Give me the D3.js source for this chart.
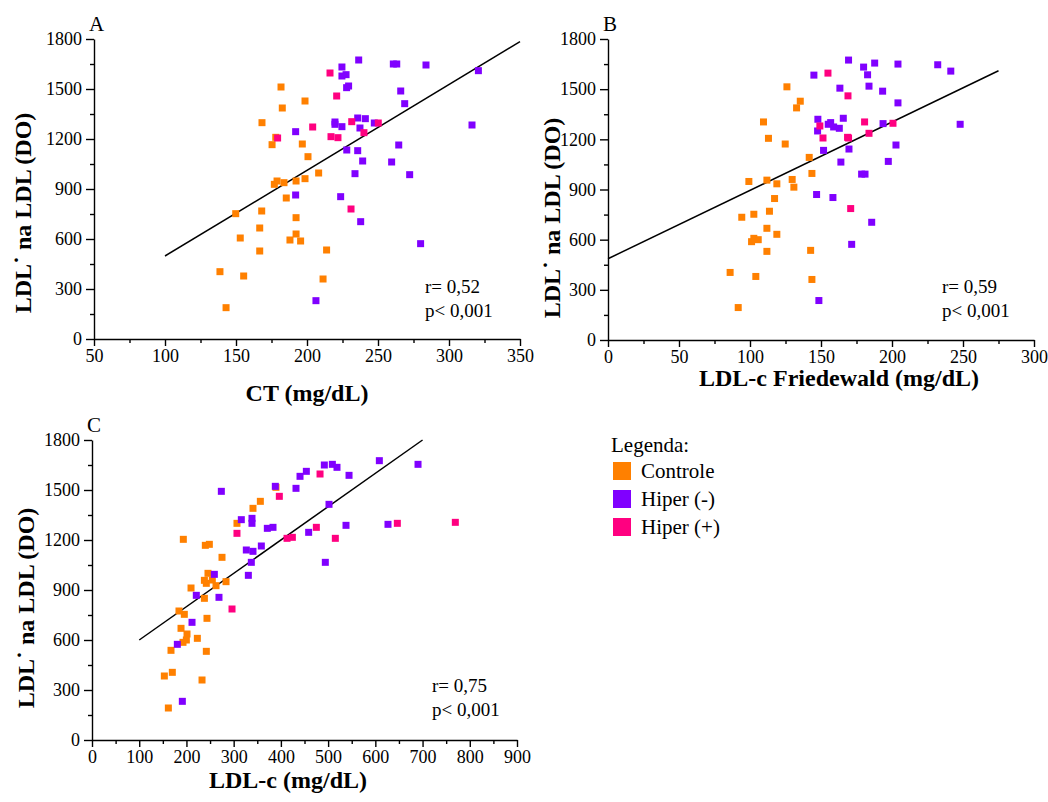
<!DOCTYPE html>
<html>
<head>
<meta charset="utf-8">
<script src="https://cdn.jsdelivr.net/npm/d3@7/dist/d3.min.js"></script>
<style>
  body { margin: 0; background: #fff; }
  svg text { font-family: "Liberation Serif", "Times New Roman", serif; fill: #000; }
  .axis path, .axis line { stroke: #000; stroke-width: 1.4; }
  .axis text { font-size: 18px; }
  .title { font-size: 24px; font-weight: bold; }
</style>
</head>
<body>
<svg id="chart" width="1048" height="802"></svg>
<script>
// group colours
var groups = ['Controle', 'Hiper (-)', 'Hiper (+)'];
var colors = ['#ff8000', '#8000ff', '#ff0080'];

// A: CT vs LDL- na LDL
var aControle = [[181.7,1512],[198.6,1428],[182.6,1386],[168.3,1298],[175.4,1166],[196.7,1170],[200.7,1094],
  [208.2,996],[178.9,948],[177,928],[183.8,938],[192.3,948],[198.6,962],[185.4,846],[149.8,752],[168.1,768],
  [192.3,728],[166.7,666],[192.3,630],[153,606],[188,594],[195.5,588],[166.7,528],[213.8,534],[138.7,404],
  [155.4,378],[211.3,360],[143,188],[178,1210]];
var aHiperNeg = [[236.4,1674],[224.6,1632],[224.6,1578],[227.5,1586],[227.9,1508],[229.3,1518],[260.8,1650],
  [263.2,1650],[283.8,1644],[320.7,1610],[266,1488],[268.8,1412],[316.2,1284],[219.7,1302],[219.7,1288],
  [224.6,1274],[235.7,1326],[237.3,1266],[241.1,1322],[247.4,1296],[192,1244],[264.6,1164],[228,1134],
  [235.7,1130],[239.2,1068],[259.6,1062],[233.8,992],[272.3,986],[192,864],[223.7,854],[237.8,704],
  [280,572],[206.3,230]];
var aHiperPos = [[216.2,1596],[220.9,1458],[231.5,1304],[250.2,1296],[204,1272],[216.9,1214],[221.8,1208],
  [240.1,1238],[179.3,1206],[231,780]];

// B: LDL-c Friedewald vs LDL- na LDL
var bControle = [[126,1514],[135.4,1428],[132.8,1388],[109.5,1304],[113,1206],[124.8,1172],[141.7,1092],
  [143.6,996],[99.2,948],[111.9,956],[118.9,934],[129.7,960],[130.9,914],[117.3,846],[94.2,734],[102.7,752],
  [113.7,770],[111.9,668],[118.9,632],[102.7,608],[105.8,600],[101.1,588],[111.9,530],[142.7,536],[86,404],
  [104.1,380],[143.6,362],[91.7,194]];
var bHiperNeg = [[169.4,1674],[180,1632],[187.8,1656],[204.2,1650],[232.2,1646],[241.4,1608],[145,1584],
  [182.8,1586],[183.8,1518],[163.3,1506],[193.4,1488],[204.2,1418],[147.8,1320],[147.6,1250],[155.1,1290],
  [156.8,1300],[158.9,1274],[162.9,1266],[165.7,1326],[193.7,1294],[248,1290],[151.8,1134],[169.7,1142],
  [202.8,1166],[164,1064],[197.4,1068],[178.6,992],[181,992],[146.9,870],[158.4,852],[185.7,704],
  [171.6,572],[148.5,236]];
var bHiperPos = [[154.9,1596],[169,1460],[180.7,1304],[200.7,1296],[149.2,1280],[151.4,1208],[168.7,1212],
  [169.4,1208],[183.8,1236],[170.9,786]];

// C: LDL-c vs LDL- na LDL
var cControle = [[389.6,1516],[356.5,1432],[340.9,1390],[307,1300],[193.4,1204],[240,1168],[248.5,1174],
  [275.3,1096],[245.6,1000],[238,958],[242.1,940],[254.8,960],[262.6,926],[283.8,950],[209.7,912],[238,850],
  [184.2,774],[195.5,754],[243.5,730],[188.5,670],[201.2,636],[199.8,600],[192.7,586],[223.1,610],
  [167.3,538],[242.1,532],[153.2,384],[170.1,406],[233,360],[161.7,192]];
var cHiperNeg = [[608.5,1676],[690.4,1654],[492,1650],[509,1654],[518.8,1636],[453.9,1612],[440.5,1582],
  [544.3,1588],[388.2,1522],[432,1510],[273.9,1492],[501.9,1414],[316.2,1322],[338.8,1330],[338.8,1300],
  [371.3,1270],[383.3,1276],[537.9,1288],[626.8,1294],[458.8,1246],[358.6,1164],[326.8,1140],[340.9,1132],
  [337.4,1066],[494.1,1066],[259.1,994],[331.1,988],[220.9,868],[268.9,856],[211.8,706],[180.7,574],
  [191.3,232]];
var cHiperPos = [[482.9,1596],[396.7,1462],[307,1240],[475.1,1276],[646.6,1300],[769.4,1306],[413,1210],
  [424.3,1216],[515.3,1210],[296.5,786]];

// regression line end points
var aFit = [[100,498],[350,1784]];
var bFit = [[0,486],[275,1610]];
var cFit = [[100,600],[700,1800]];

var yTicks = [0,300,600,900,1200,1500,1800];
var yTitle = 'LDL\u02D9 na LDL (DO)';

var svg = d3.select('#chart');

function panel(cfg) {
    var x = d3.scaleLinear().domain(cfg.xDomain).range([cfg.left, cfg.right]);
    var y = d3.scaleLinear().domain([0, 1800]).range([cfg.bottom, cfg.top]);
    var g = svg.append('g');

    //minor ticks
    g.append('g').attr('class', 'axis')
        .attr('transform', 'translate(0,' + cfg.bottom + ')')
        .call(d3.axisBottom(x).tickValues(cfg.xMinor).tickSize(4).tickFormat(''))
        .select('.domain').remove();
    g.append('g').attr('class', 'axis')
        .attr('transform', 'translate(' + cfg.left + ',0)')
        .call(d3.axisLeft(y).tickValues(d3.range(150, 1800, 300)).tickSize(4).tickFormat(''))
        .select('.domain').remove();

    //major axes
    g.append('g').attr('class', 'axis')
        .attr('transform', 'translate(0,' + cfg.bottom + ')')
        .call(d3.axisBottom(x).tickValues(cfg.xTicks).tickSize(7).tickSizeOuter(0).tickPadding(3).tickFormat(d3.format('d')));
    g.append('g').attr('class', 'axis')
        .attr('transform', 'translate(' + cfg.left + ',0)')
        .call(d3.axisLeft(y).tickValues(yTicks).tickSize(8).tickSizeOuter(0).tickPadding(4).tickFormat(d3.format('d')));

    //regression line
    g.append('path')
        .attr('d', d3.line().x(d => x(d[0])).y(d => y(d[1]))(cfg.fit))
        .attr('fill', 'none')
        .attr('stroke', '#000')
        .attr('stroke-width', 1.5);

    //points
    cfg.series.forEach(function(s, i) {
        g.append('g').selectAll('rect').data(s)
            .enter().append('rect')
            .attr('x', d => x(d[0]) - 3.5)
            .attr('y', d => y(d[1]) - 3.5)
            .attr('width', 7)
            .attr('height', 7)
            .attr('fill', colors[i]);
    });

    //titles
    g.append('text').attr('class', 'title')
        .attr('x', cfg.xTitleX).attr('y', cfg.xTitleY)
        .attr('text-anchor', 'middle')
        .text(cfg.xTitle);
    g.append('text').attr('class', 'title')
        .attr('transform', 'translate(' + cfg.yTitleX + ',' + cfg.yTitleY + ') rotate(-90)')
        .attr('text-anchor', 'middle')
        .text(yTitle);
    g.append('text')
        .attr('x', cfg.left - 5).attr('y', cfg.top - 8)
        .style('font-size', '21px')
        .text(cfg.letter);

    //stats
    g.append('text').attr('x', cfg.statX).attr('y', cfg.statY)
        .style('font-size', '19px').text(cfg.r);
    g.append('text').attr('x', cfg.statX).attr('y', cfg.statY + 24)
        .style('font-size', '19px').text('p< 0,001');
}

panel({
    letter: 'A', xDomain: [50, 350], left: 94, right: 520, top: 39, bottom: 339,
    xTicks: d3.range(50, 351, 50), xMinor: d3.range(75, 350, 50),
    fit: aFit, series: [aControle, aHiperNeg, aHiperPos],
    xTitle: 'CT (mg/dL)', xTitleX: 307, xTitleY: 401,
    yTitleX: 31, yTitleY: 213,
    statX: 425, statY: 293, r: 'r= 0,52'
});

panel({
    letter: 'B', xDomain: [0, 300], left: 608, right: 1034, top: 39, bottom: 340,
    xTicks: d3.range(0, 301, 50), xMinor: d3.range(25, 300, 50),
    fit: bFit, series: [bControle, bHiperNeg, bHiperPos],
    xTitle: 'LDL-c Friedewald (mg/dL)', xTitleX: 839, xTitleY: 386,
    yTitleX: 560, yTitleY: 218,
    statX: 942, statY: 293, r: 'r= 0,59'
});

panel({
    letter: 'C', xDomain: [0, 900], left: 92, right: 517, top: 440, bottom: 740,
    xTicks: d3.range(0, 901, 100), xMinor: d3.range(50, 900, 100),
    fit: cFit, series: [cControle, cHiperNeg, cHiperPos],
    xTitle: 'LDL-c (mg/dL)', xTitleX: 288, xTitleY: 788,
    yTitleX: 34, yTitleY: 608,
    statX: 432, statY: 692, r: 'r= 0,75'
});

//legend
var legend = svg.append('g').attr('transform', 'translate(613,452)');
legend.append('text').attr('x', -2).attr('y', 0).style('font-size', '21px').text('Legenda:');
groups.forEach(function(name, i) {
    legend.append('rect')
        .attr('x', 0).attr('y', 10 + i * 28)
        .attr('width', 18).attr('height', 18)
        .attr('fill', colors[i]);
    legend.append('text')
        .attr('x', 28).attr('y', 26 + i * 28)
        .style('font-size', '21px')
        .text(name);
});
</script>
</body>
</html>
